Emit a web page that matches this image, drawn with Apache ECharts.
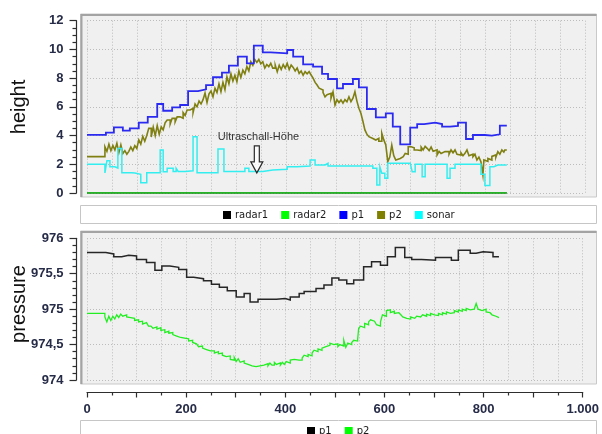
<!DOCTYPE html>
<html>
<head>
<meta charset="utf-8">
<script src="https://cdn.jsdelivr.net/npm/echarts@6/dist/echarts.min.js"></script>
<style>
  html, body { margin: 0; padding: 0; background: #fff; }
  #main { width: 602px; height: 434px; }
</style>
</head>
<body>
<div id="main"></div>
<script>
// ---- height panel: [distance, value] pairs ----
const radar1Height = [[0, 0], [843, 0]];
const radar2Height = [[0, 0], [843, 0]];
const p1Height = [
  [0,4.05],[38,4.2],[54,4.57],[72,4.34],[86,4.5],[104,4.9],[122,5.3],[141,6.2],[153,5.73],[171,5.97],
  [187,6.13],[203,7.1],[223,7.22],[239,7.52],[253,8.06],[271,8.38],[285,8.87],[303,9.5],[321,9.03],[335,10.26],
  [353,9.8],[369,9.73],[402,9.96],[414,9.5],[434,8.96],[454,8.8],[472,8.29],[484,7.94],[502,7.29],[514,7.59],
  [534,7.94],[546,7.36],[562,5.85],[580,5.27],[600,5.55],[614,4.62],[629,3.39],[649,4.55],[663,4.8],[677,4.9],
  [699,4.8],[713,4.62],[729,4.67],[745,4.9],[761,3.76],[775,4.04],[799,4.0],[813,4.09],[829,4.69],[843,4.69]
];
const p2Height = [
  [0,2.53],[36,3.22],[40,2.9],[44,3.4],[48,2.95],[52,3.3],[56,3.0],[60,3.46],[64,2.8],[68,3.35],
  [72,2.75],[76,2.95],[80,2.7],[84,2.9],[88,3.2],[92,2.95],[96,3.3],[100,3.1],[104,3.7],[108,3.4],
  [112,3.95],[116,3.6],[120,4.0],[124,4.5],[129,3.9],[133,4.6],[137,4.0],[141,4.7],[145,4.1],[149,4.6],
  [153,4.4],[157,4.9],[161,5.08],[167,4.8],[171,5.2],[177,4.95],[181,5.3],[187,5.2],[193,5.6],[197,5.4],
  [201,5.78],[207,5.9],[213,5.6],[217,6.2],[221,6.0],[225,6.4],[229,6.2],[233,6.5],[237,6.96],[241,6.3],
  [245,6.9],[249,7.1],[253,6.7],[257,7.3],[261,7.0],[265,7.6],[269,7.05],[273,7.7],[277,7.2],[281,8.1],
  [285,7.6],[289,8.3],[293,7.8],[297,8.2],[301,7.75],[305,8.5],[309,8.05],[313,8.56],[317,8.3],[321,8.8],
  [325,8.5],[329,9.14],[333,8.9],[337,9.3],[341,9.1],[345,9.3],[349,9.0],[353,9.14],[357,8.7],[361,8.95],
  [365,8.8],[369,9.03],[373,8.7],[378,8.91],[382,8.45],[386,8.9],[390,8.6],[394,8.95],[398,8.7],[402,9.03],
  [406,8.6],[410,8.91],[414,8.75],[418,8.5],[422,8.7],[426,8.33],[430,8.5],[434,8.2],[438,8.45],[442,8.3],
  [446,8.45],[450,8.22],[454,8.0],[458,7.7],[462,7.52],[466,7.3],[470,7.17],[474,7.0],[478,6.7],[482,6.85],
  [486,6.94],[490,6.6],[494,7.05],[498,6.13],[502,6.5],[506,6.3],[510,6.48],[514,6.25],[518,6.5],[522,6.35],
  [526,6.7],[530,6.36],[534,6.6],[538,7.05],[542,6.4],[546,5.9],[550,5.55],[554,5.0],[558,4.39],[562,4.1],
  [566,3.92],[570,3.8],[574,3.69],[580,3.81],[586,3.6],[592,4.16],[596,3.7],[600,3.34],[604,2.18],[608,2.5],
  [612,3.34],[616,2.6],[620,2.3],[624,2.4],[629,2.53],[635,2.6],[639,2.76],[643,2.7],[645,3.22],[651,3.15],
  [657,3.0],[663,3.11],[667,2.95],[671,3.2],[675,3.0],[679,3.25],[683,3.11],[687,2.95],[691,3.2],[695,2.9],
  [699,3.0],[703,2.65],[707,2.9],[711,2.75],[715,2.88],[719,2.76],[723,2.88],[727,2.7],[731,3.0],[735,2.8],
  [739,3.0],[743,2.7],[747,2.65],[751,2.8],[755,2.6],[759,2.76],[763,3.0],[767,2.6],[771,2.7],[775,2.53],
  [779,2.7],[783,2.3],[787,2.5],[791,2.18],[795,1.25],[797,2.3],[801,2.2],[805,2.41],[809,2.3],[813,2.55],
  [817,2.65],[821,2.5],[825,2.88],[829,2.7],[833,3.0],[837,2.85],[839,3.0],[843,3.0]
];
const sonarHeight = [
  [0,2.0],[36,1.4],[40,2.25],[46,1.83],[56,1.74],[62,3.1],[70,1.41],[90,1.4],[96,1.3],[108,0.72],
  [120,1.41],[147,3.0],[153,1.48],[161,1.72],[173,1.5],[179,1.72],[183,1.5],[197,1.55],[213,3.92],[221,1.41],
  [263,3.06],[275,1.5],[317,1.72],[325,1.5],[353,1.6],[373,1.65],[402,1.83],[422,1.88],[448,2.3],[458,1.95],
  [478,2.07],[484,1.88],[574,1.72],[582,0.56],[588,1.83],[592,1.37],[598,1.02],[604,2.07],[649,2.0],[653,1.48],
  [659,2.0],[673,1.13],[679,2.0],[723,1.02],[729,1.72],[739,2.0],[791,1.3],[799,0.52],[809,1.83],[817,1.95],
  [825,1.95],[843,1.95]
];

// ---- pressure panel ----
const p1Pressure = [
  [0,975.80],[38,975.78],[54,975.74],[70,975.76],[84,975.75],[100,975.70],[120,975.66],[137,975.55],[151,975.61],[167,975.59],
  [185,975.56],[201,975.45],[215,975.43],[235,975.40],[251,975.35],[267,975.31],[283,975.26],[301,975.17],[317,975.22],[329,975.10],
  [345,975.14],[382,975.15],[400,975.13],[410,975.17],[428,975.22],[438,975.25],[462,975.29],[478,975.34],[494,975.44],[508,975.41],
  [524,975.36],[538,975.41],[558,975.60],[574,975.67],[592,975.62],[606,975.74],[622,975.87],[641,975.73],[655,975.70],[675,975.69],
  [703,975.73],[735,975.69],[749,975.83],[773,975.79],[785,975.81],[799,975.80],[819,975.74],[831,975.74]
];
const p2Pressure = [
  [0,974.94],[36,974.89],[40,974.82],[44,974.90],[48,974.84],[52,974.90],[56,974.86],[60,974.92],[64,974.88],[68,974.93],
  [72,974.90],[76,974.92],[80,974.89],[84,974.88],[88,974.86],[92,974.87],[96,974.84],[100,974.85],[104,974.82],[108,974.83],
  [112,974.79],[116,974.81],[120,974.80],[124,974.76],[129,974.78],[133,974.73],[137,974.75],[141,974.72],[145,974.74],[149,974.70],
  [153,974.71],[157,974.67],[161,974.69],[165,974.66],[169,974.67],[173,974.64],[177,974.62],[181,974.63],[185,974.60],[189,974.61],
  [193,974.59],[197,974.57],[201,974.58],[205,974.55],[209,974.56],[213,974.53],[217,974.51],[221,974.50],[225,974.47],[229,974.48],
  [233,974.45],[237,974.43],[241,974.44],[245,974.41],[249,974.40],[253,974.41],[257,974.38],[261,974.40],[265,974.37],[269,974.38],
  [273,974.35],[277,974.33],[281,974.31],[285,974.34],[289,974.29],[293,974.28],[297,974.32],[301,974.26],[305,974.30],[309,974.25],
  [313,974.27],[317,974.24],[321,974.22],[325,974.23],[329,974.20],[333,974.18],[337,974.19],[341,974.17],[345,974.20],[349,974.18],
  [353,974.21],[357,974.19],[361,974.23],[365,974.20],[369,974.24],[373,974.21],[378,974.25],[382,974.22],[386,974.24],[390,974.21],
  [394,974.25],[398,974.22],[402,974.26],[406,974.24],[410,974.28],[414,974.29],[418,974.27],[422,974.28],[428,974.28],[434,974.31],
  [438,974.35],[442,974.33],[446,974.36],[450,974.34],[454,974.38],[458,974.42],[462,974.40],[466,974.44],[470,974.42],[474,974.45],
  [478,974.47],[482,974.46],[486,974.49],[490,974.52],[494,974.50],[498,974.48],[502,974.51],[506,974.47],[510,974.50],[514,974.48],
  [518,974.56],[522,974.46],[526,974.52],[530,974.50],[534,974.53],[538,974.56],[542,974.55],[546,974.58],[548,974.73],[552,974.76],
  [556,974.74],[560,974.80],[564,974.78],[568,974.82],[572,974.85],[576,974.83],[580,974.85],[584,974.78],[588,974.76],[592,974.82],
  [596,974.92],[600,974.90],[604,974.98],[608,974.99],[612,974.95],[616,974.97],[620,974.94],[624,974.95],[629,974.94],[633,974.92],
  [637,974.89],[641,974.87],[645,974.88],[649,974.86],[653,974.89],[657,974.87],[661,974.88],[665,974.90],[669,974.89],[673,974.91],
  [677,974.92],[681,974.90],[685,974.93],[689,974.91],[693,974.94],[697,974.92],[701,974.93],[705,974.91],[709,974.94],[713,974.92],
  [717,974.95],[721,974.93],[725,974.96],[729,974.94],[733,974.96],[737,974.95],[741,974.98],[745,974.96],[749,974.99],[753,974.97],
  [757,975.00],[761,974.98],[765,975.01],[769,974.99],[773,975.01],[777,975.00],[781,975.02],[785,975.08],[789,975.00],[793,974.98],
  [797,974.97],[801,975.00],[805,974.96],[809,974.95],[813,974.93],[817,974.92],[821,974.90],[825,974.89],[829,974.88],[831,974.88]
];

// Where the sonar callout points to
const sonarCallout = { label: 'Ultraschall-Höhe', at: [341, 1.4] };

// ---- styling ----
const FONT = "'Liberation Sans', Arial, sans-serif";
const LEGEND_FONT = "'DejaVu Sans', sans-serif";
const AXIS_LABEL_COLOR = '#262b47';
const AXIS_COLOR = '#2e2e2e';
const dotted = { color: '#bcbcbc', type: [1, 2], width: 1 };

// German number style: decimal comma, dot as thousands separator
const deNumber = v => {
  const s = String(v).replace('.', ',');
  return s.replace(/\B(?=(\d{3})+(?!\d))/g, '.');
};

function yAxisCfg(gridIndex, min, max, interval, minorSplit) {
  return {
    type: 'value', gridIndex, min, max, interval,
    offset: 10.5,
    axisLine: { show: true, onZero: false, lineStyle: { color: AXIS_COLOR, width: 1.2 } },
    axisTick: { show: true, length: 7, inside: false, lineStyle: { color: AXIS_COLOR, width: 1.2 } },
    minorTick: { show: true, splitNumber: minorSplit, length: 4, lineStyle: { color: AXIS_COLOR, width: 1.2 } },
    axisLabel: {
      margin: 13, color: AXIS_LABEL_COLOR, fontFamily: FONT, fontSize: 13, fontWeight: 'bold',
      formatter: v => deNumber(v)
    },
    splitLine: { show: true, lineStyle: dotted },
    minorSplitLine: { show: false }
  };
}

const chart = echarts.init(document.getElementById('main'), null, { renderer: 'canvas' });

function panel(x, y, w, h, fill) {
  return [
    { type: 'rect', z: -20, silent: true, shape: { x, y, width: w, height: h },
      style: { fill, stroke: '#c9c9c9', lineWidth: 1 } },
    { type: 'polyline', z: -19, silent: true,
      shape: { points: [[x + 1, y + h], [x + 1, y + 1], [x + w, y + 1]] },
      style: { stroke: '#a3a3a3', lineWidth: 2, fill: null } }
  ];
}
function box(x, y, w, h) {
  return { type: 'rect', z: -20, silent: true, shape: { x, y, width: w, height: h },
    style: { fill: '#ffffff', stroke: '#c6c6c6', lineWidth: 1 } };
}

const stepLine = (name, data, color, width, xi, yi) => ({
  name, type: 'line', data, step: 'end', showSymbol: false, symbol: 'none',
  xAxisIndex: xi, yAxisIndex: yi, animation: false,
  itemStyle: { color },
  lineStyle: { color, width, join: 'miter' }
});

const legendBase = {
  orient: 'horizontal', icon: 'rect', itemWidth: 8, itemHeight: 8, itemGap: 13,
  selectedMode: false, padding: 0,
  textStyle: { fontFamily: LEGEND_FONT, fontSize: 10, color: '#1a1a1a', padding: [0, 0, 0, -1] }
};

chart.setOption({
  animation: false,
  backgroundColor: '#ffffff',
  grid: [
    { left: 87, top: 20.7, width: 498, height: 172.3 },
    { left: 87, top: 238.3, width: 498, height: 141.7 }
  ],
  xAxis: [
    {
      type: 'value', gridIndex: 0, min: 0, max: 1000, interval: 100,
      axisLine: { show: false }, axisTick: { show: false }, axisLabel: { show: false },
      minorTick: { show: false, splitNumber: 2 },
      splitLine: { show: true, lineStyle: dotted },
      minorSplitLine: { show: true, lineStyle: dotted }
    },
    {
      type: 'value', gridIndex: 1, min: 0, max: 1000, interval: 100, position: 'bottom', offset: 12.5,
      axisLine: { show: true, onZero: false, lineStyle: { color: AXIS_COLOR, width: 1.2 } },
      axisTick: { show: true, length: 5, inside: false, lineStyle: { color: AXIS_COLOR, width: 1.2 } },
      minorTick: { show: true, splitNumber: 2, length: 3, lineStyle: { color: AXIS_COLOR, width: 1.2 } },
      axisLabel: {
        margin: 10, color: AXIS_LABEL_COLOR, fontFamily: FONT, fontSize: 13, fontWeight: 'bold',
        formatter: v => (v % 200 === 0 ? deNumber(v) : '')
      },
      splitLine: { show: true, lineStyle: dotted },
      minorSplitLine: { show: true, lineStyle: dotted }
    }
  ],
  yAxis: [
    yAxisCfg(0, 0, 12, 2, 4),
    yAxisCfg(1, 974, 976, 0.5, 5)
  ],
  legend: [
    Object.assign({}, legendBase, {
      left: 223, top: 210,
      data: [
        { name: 'radar1', itemStyle: { color: '#000000' } },
        { name: 'radar2', itemStyle: { color: '#00ff00' } },
        { name: 'p1', itemStyle: { color: '#0000ff' } },
        { name: 'p2', itemStyle: { color: '#808000' } },
        { name: 'sonar', itemStyle: { color: '#00ffff' } }
      ]
    }),
    Object.assign({}, legendBase, {
      left: 307, top: 426,
      data: [
        { name: 'p1', itemStyle: { color: '#000000' } },
        { name: 'p2', itemStyle: { color: '#00ff00' } }
      ]
    })
  ],
  graphic: [
    ...panel(80.5, 14, 516, 183, '#f0f0f0'),
    box(80.5, 205.5, 516, 18),
    ...panel(80.5, 231, 516, 153, '#f0f0f0'),
    box(80.5, 420.5, 516, 20),
    { type: 'text', z: 50, silent: true, x: 19, y: 107, rotation: Math.PI / 2,
      style: { text: 'height', fontFamily: FONT, fontSize: 20, fill: '#111', align: 'center', verticalAlign: 'middle' } },
    { type: 'text', z: 50, silent: true, x: 19, y: 304, rotation: Math.PI / 2,
      style: { text: 'pressure', fontFamily: FONT, fontSize: 20, fill: '#111', align: 'center', verticalAlign: 'middle' } }
  ],
  series: [
    stepLine('radar1', radar1Height, '#000000', 1.5, 0, 0),
    stepLine('radar2', radar2Height, '#22dd22', 1.6, 0, 0),
    stepLine('p2', p2Height, '#7f7f12', 1.6, 0, 0),
    stepLine('p1', p1Height, '#2a2af0', 1.8, 0, 0),
    stepLine('sonar', sonarHeight, '#33eef0', 1.5, 0, 0),
    stepLine('p1', p1Pressure, '#262626', 1.5, 1, 1),
    stepLine('p2', p2Pressure, '#22ee22', 1.3, 1, 1)
  ]
});

// Callout arrow and label, anchored to the sonar trace in data space
const tip = chart.convertToPixel({ xAxisIndex: 0, yAxisIndex: 0 }, sonarCallout.at);
const tx = tip[0], ty = tip[1];
chart.setOption({
  graphic: [
    { type: 'polygon', id: 'calloutArrow', z: 60, silent: true,
      shape: { points: [
        [tx - 2.5, ty - 27], [tx + 2.5, ty - 27], [tx + 2.5, ty - 11], [tx + 6, ty - 11],
        [tx, ty], [tx - 6, ty - 11], [tx - 2.5, ty - 11]
      ] },
      style: { fill: 'rgba(255,255,255,0.7)', stroke: '#2a2a2a', lineWidth: 1.2 } },
    { type: 'text', id: 'calloutText', z: 60, silent: true, x: tx - 39, y: ty - 36,
      style: { text: sonarCallout.label, fontFamily: FONT, fontSize: 11, fill: '#333',
               align: 'left', verticalAlign: 'middle' } }
  ]
});
</script>
</body>
</html>
